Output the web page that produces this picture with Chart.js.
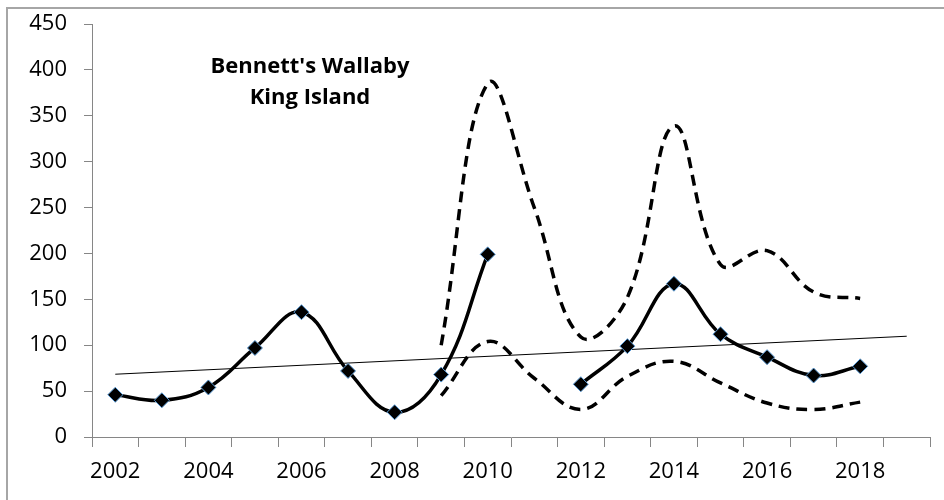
<!DOCTYPE html>
<html>
<head>
<meta charset="utf-8">
<script src="https://cdn.jsdelivr.net/npm/chart.js@4.4.1/dist/chart.umd.min.js"></script>
<style>
  html,body{margin:0;padding:0;background:#fff;}
  #wrap{position:relative;width:944px;height:500px;overflow:hidden;}
  #frame{position:absolute;left:6px;top:7px;width:1000px;height:600px;border-left:2px solid #a6a6a6;border-top:2px solid #a6a6a6;}
  #chart{position:absolute;left:0;top:0;}
  #title{position:absolute;left:160px;width:300px;top:49px;text-align:center;font:bold 22px "Open Sans",sans-serif;line-height:31px;color:#000;}
</style>
</head>
<body>
<div id="wrap">
  <div id="frame"></div>
  <canvas id="chart" width="944" height="500"></canvas>
  <div id="title">Bennett's Wallaby<br>King Island</div>
</div>
<script>
// DATA
const years=['2002','2003','2004','2005','2006','2007','2008','2009','2010','2011','2012','2013','2014','2015','2016','2017','2018','2019'];
const counts=[46,40,54,97,136,72,27,68,199,null,57.5,99,167,112,87,67,77,null];
const upperCI=[null,null,null,null,null,null,null,100,385,250,109,152,339,188,203,158,151,null];
const lowerCI=[null,null,null,null,null,null,null,45,104,64,30,66,82.5,59,37,30,38,null];
const trendLine=[68.4,null,null,null,null,null,null,null,null,null,null,null,null,null,null,null,null,109.8];
const yTicks=[0,50,100,150,200,250,300,350,400,450];

const axisGray='#868686';
const tickFont={family:'"Open Sans", sans-serif',size:22};

const ctx=document.getElementById('chart').getContext('2d');
new Chart(ctx,{
  type:'line',
  data:{
    labels:years,
    datasets:[
      {label:'Count',data:counts,borderColor:'#000',borderWidth:3.5,tension:0.4,spanGaps:false,
       pointStyle:'rectRot',pointRadius:7.5,pointBackgroundColor:'#000',pointBorderColor:'#5b9bd5',pointBorderWidth:1},
      {label:'Trend',data:trendLine,borderColor:'#000',borderWidth:1,spanGaps:true,pointRadius:0,tension:0},
      {label:'Upper',data:upperCI,borderColor:'#000',borderWidth:3.5,borderDash:[11,7],tension:0.4,pointRadius:0},
      {label:'Lower',data:lowerCI,borderColor:'#000',borderWidth:3.5,borderDash:[11,7],tension:0.4,pointRadius:0}
    ]
  },
  options:{
    responsive:false,
    animation:false,
    events:[],
    layout:{padding:{top:24,right:14,left:0,bottom:0}},
    plugins:{legend:{display:false},tooltip:{enabled:false}},
    scales:{
      x:{
        offset:true,
        grid:{display:true,drawOnChartArea:false,drawTicks:true,tickLength:10,offset:true,color:axisGray},
        border:{display:true,color:axisGray,width:1},
        ticks:{autoSkip:false,maxRotation:0,minRotation:0,color:'#000',font:tickFont,padding:12,
          callback:(v,i)=>(i%2===0 && i<years.length-1)?years[i]:''},
        afterFit:s=>{s.height=63;s.paddingLeft=0;s.paddingRight=0;}
      },
      y:{
        min:0,max:450,
        afterBuildTicks:s=>{s.ticks=yTicks.map(v=>({value:v}));},
        grid:{display:true,drawOnChartArea:false,drawTicks:true,tickLength:8,color:axisGray},
        border:{display:true,color:axisGray,width:1},
        ticks:{color:'#000',font:tickFont,padding:17},
        afterFit:s=>{s.width=92;s.paddingTop=0;s.paddingBottom=0;}
      }
    }
  }
});
</script>
</body>
</html>
